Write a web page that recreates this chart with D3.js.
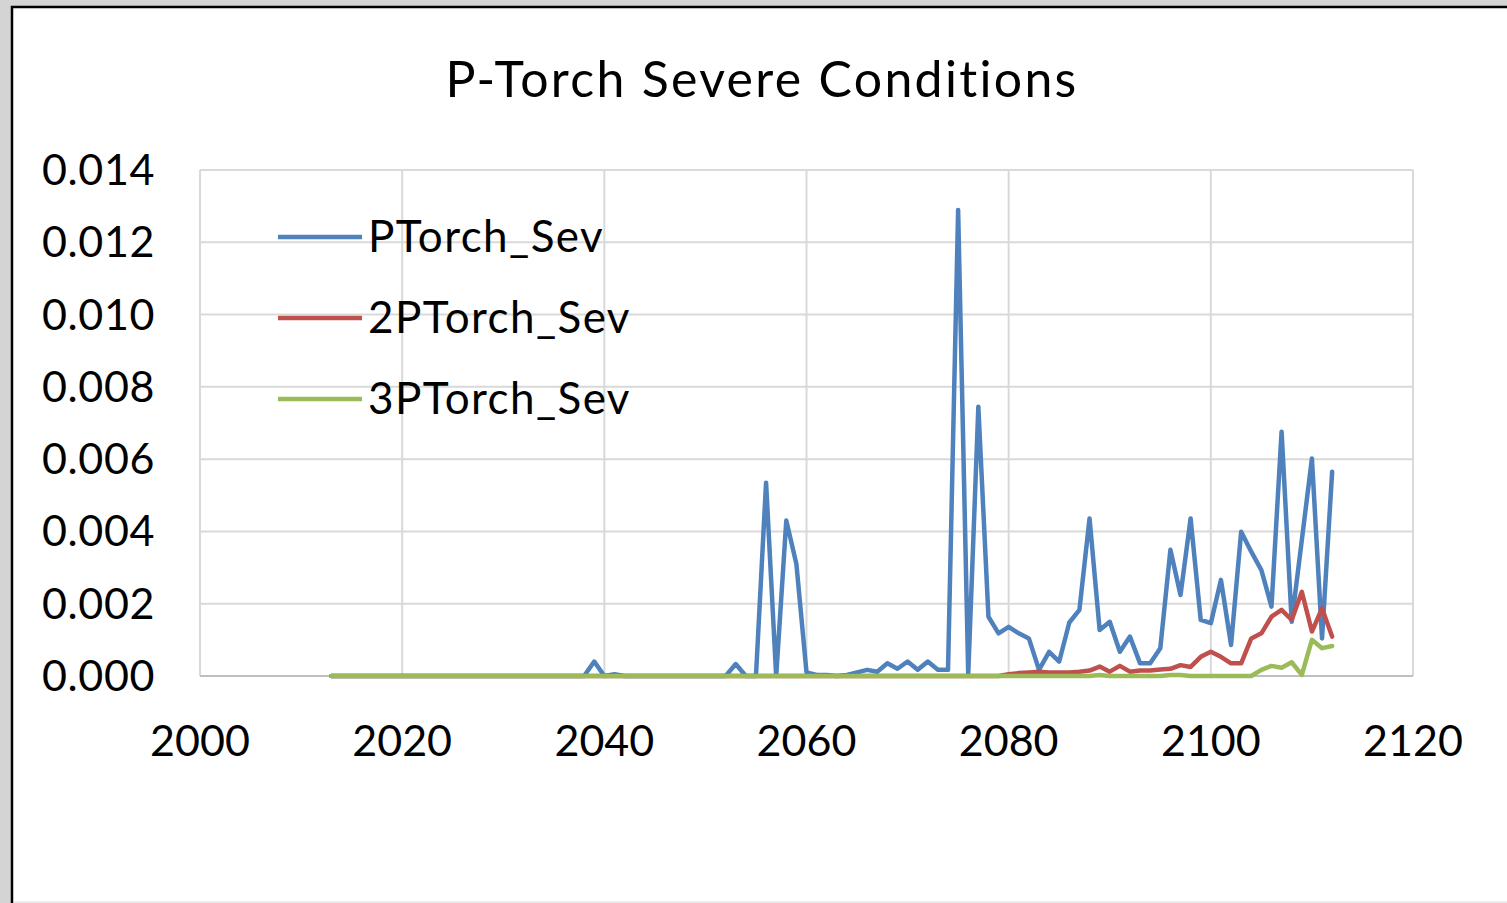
<!DOCTYPE html>
<html lang="en">
<head>
<meta charset="UTF-8">
<title>P-Torch Severe Conditions</title>
<script src="https://d3js.org/d3.v7.min.js"></script>
<style>
  html, body { margin: 0; padding: 0; background: #d4d4d4; overflow: hidden; }
  text { font-family: Lato, "Open Sans", sans-serif; fill: #000; }
</style>
</head>
<body>
<div id="chart"></div>
<script>
// years 2013..2112
var years = d3.range(2013, 2113)

// blue series, from 2013
var ptorchSev = [
  0, 0, 0, 0, 0, 0, 0, 0, 0, 0,                 // 2013-2022
  0, 0, 0, 0, 0, 0, 0, 0, 0, 0,                 // 2023-2032
  0, 0, 0, 0, 0, 0, 0.0004, 0, 0.00005, 0,      // 2033-2042
  0, 0, 0, 0, 0, 0, 0, 0, 0, 0,                 // 2043-2052
  0.00033, 0, 0, 0.00535, 0, 0.0043, 0.0031, 0.0001, 0.00003, 0.00003, // 2053-2062
  0, 0.00003, 0.0001, 0.00017, 0.00012, 0.00035, 0.0002, 0.0004, 0.00017, 0.0004, // 2063-2072
  0.00017, 0.00017, 0.01289, 0.00005, 0.00745, 0.00164, 0.00118, 0.00136, 0.00118, 0.00104, // 2073-2082
  0.00017, 0.00067, 0.0004, 0.00148, 0.00183, 0.00436, 0.00127, 0.0015, 0.00067, 0.00109, // 2083-2092
  0.00035, 0.00035, 0.00077, 0.00349, 0.00224, 0.00436, 0.00155, 0.00146, 0.00266, 0.00086, // 2093-2102
  0.00399, 0.00344, 0.00293, 0.00192, 0.00676, 0.0015, 0.00376, 0.00602, 0.00104, 0.00565  // 2103-2112
]

// red series
var ptorch2Sev = [
  0, 0, 0, 0, 0, 0, 0, 0, 0, 0,
  0, 0, 0, 0, 0, 0, 0, 0, 0, 0,
  0, 0, 0, 0, 0, 0, 0, 0, 0, 0,
  0, 0, 0, 0, 0, 0, 0, 0, 0, 0,
  0, 0, 0, 0, 0, 0, 0, 0, 0, 0,
  0, 0, 0, 0, 0, 0, 0, 0, 0, 0,
  0, 0, 0, 0, 0, 0, 0, 0.00005, 0.00008, 0.0001, // 2073-2082
  0.00012, 0.0001, 0.0001, 0.0001, 0.00012, 0.00015, 0.00026, 0.00012, 0.00028, 0.00012, // 2083-2092
  0.00015, 0.00015, 0.00018, 0.0002, 0.0003, 0.00025, 0.00053, 0.00067, 0.00053, 0.00035, // 2093-2102
  0.00035, 0.00104, 0.00118, 0.00164, 0.00183, 0.00155, 0.00233, 0.00123, 0.00187, 0.00109  // 2103-2112
]

// green series
var ptorch3Sev = [
  0, 0, 0, 0, 0, 0, 0, 0, 0, 0,
  0, 0, 0, 0, 0, 0, 0, 0, 0, 0,
  0, 0, 0, 0, 0, 0, 0, 0, 0, 0,
  0, 0, 0, 0, 0, 0, 0, 0, 0, 0,
  0, 0, 0, 0, 0, 0, 0, 0, 0, 0,
  0, 0, 0, 0, 0, 0, 0, 0, 0, 0,
  0, 0, 0, 0, 0, 0, 0, 0, 0, 0,
  0, 0, 0, 0, 0, 0, 0.00003, 0, 0, 0,
  0, 0, 0, 0.00003, 0.00003, 0, 0, 0, 0, 0,
  0, 0, 0.00017, 0.00028, 0.00023, 0.00038, 0.00003, 0.001, 0.00077, 0.00083
]

var seriesNames = ["PTorch_Sev", "2PTorch_Sev", "3PTorch_Sev"]
var seriesColors = ["#4f81bd", "#c0504d", "#9bbb59"]
var yTicks = [0, 0.002, 0.004, 0.006, 0.008, 0.010, 0.012, 0.014]
var xTicks = [2000, 2020, 2040, 2060, 2080, 2100, 2120]

var width = 1507
var height = 903

var svg = d3.select("#chart")
  .append("svg")
  .attr("width", width)
  .attr("height", height)

// chart frame (only top and left edges show)
svg.append("rect")
  .attr("x", 12).attr("y", 7)
  .attr("width", width).attr("height", height)
  .attr("fill", "#fff")
  .attr("stroke", "#000")
  .attr("stroke-width", 2.5)

svg.append("line")
  .attr("x1", 14).attr("x2", width)
  .attr("y1", 902).attr("y2", 902)
  .attr("stroke", "#e6e6e6")
  .attr("stroke-width", 1.5)

var plot = { left: 200, right: 1413, top: 170, bottom: 676 }

var x = d3.scaleLinear().domain([2000, 2120]).range([plot.left, plot.right])
var y = d3.scaleLinear().domain([0, 0.014]).range([plot.bottom, plot.top])

// gridlines
svg.append("g")
  .selectAll("line")
  .data(yTicks)
  .enter()
  .append("line")
  .attr("x1", plot.left).attr("x2", plot.right)
  .attr("y1", function (d) { return y(d) })
  .attr("y2", function (d) { return y(d) })
  .attr("stroke", "#d9d9d9")
  .attr("stroke-width", 2)

svg.append("g")
  .selectAll("line")
  .data(xTicks)
  .enter()
  .append("line")
  .attr("y1", plot.top).attr("y2", plot.bottom)
  .attr("x1", function (d) { return x(d) })
  .attr("x2", function (d) { return x(d) })
  .attr("stroke", "#d9d9d9")
  .attr("stroke-width", 2)

// axis line
svg.append("line")
  .attr("x1", plot.left).attr("x2", plot.right)
  .attr("y1", y(0)).attr("y2", y(0))
  .attr("stroke", "#bfbfbf")
  .attr("stroke-width", 2)

// tick labels
var yFmt = d3.format(".3f")
svg.append("g")
  .selectAll("text")
  .data(yTicks)
  .enter()
  .append("text")
  .attr("x", 155)
  .attr("y", function (d) { return y(d) })
  .attr("dy", "0.35em")
  .attr("text-anchor", "end")
  .style("font-size", "43px")
  .style("letter-spacing", "0.6px")
  .text(function (d) { return yFmt(d) })

svg.append("g")
  .selectAll("text")
  .data(xTicks)
  .enter()
  .append("text")
  .attr("x", function (d) { return x(d) })
  .attr("y", 756)
  .attr("text-anchor", "middle")
  .style("font-size", "43px")
  .text(function (d) { return d })

// title
svg.append("text")
  .attr("x", 762)
  .attr("y", 97)
  .attr("text-anchor", "middle")
  .style("font-size", "50px")
  .style("letter-spacing", "2.3px")
  .text("P-Torch Severe Conditions")

// lines
var allSeries = [ptorchSev, ptorch2Sev, ptorch3Sev]
var line = d3.line()
  .x(function (d, i) { return x(years[i]) })
  .y(function (d) { return y(d) })
  .curve(d3.curveLinear)

svg.append("g")
  .selectAll("path")
  .data(allSeries)
  .enter()
  .append("path")
  .attr("d", line)
  .attr("fill", "none")
  .attr("stroke", function (d, i) { return seriesColors[i] })
  .attr("stroke-width", 4.5)
  .attr("stroke-linejoin", "round")
  .attr("stroke-linecap", "round")

// legend
var legend = svg.append("g")
  .selectAll("g")
  .data(seriesNames)
  .enter()
  .append("g")
  .attr("transform", function (d, i) { return "translate(278," + (237 + i * 81) + ")" })

legend.append("line")
  .attr("x1", 0).attr("x2", 84)
  .attr("stroke", function (d, i) { return seriesColors[i] })
  .attr("stroke-width", 4.5)

legend.append("text")
  .attr("x", 90)
  .attr("dy", "0.35em")
  .style("font-size", "44px")
  .style("letter-spacing", "1.4px")
  .text(function (d) { return d })
</script>
</body>
</html>
